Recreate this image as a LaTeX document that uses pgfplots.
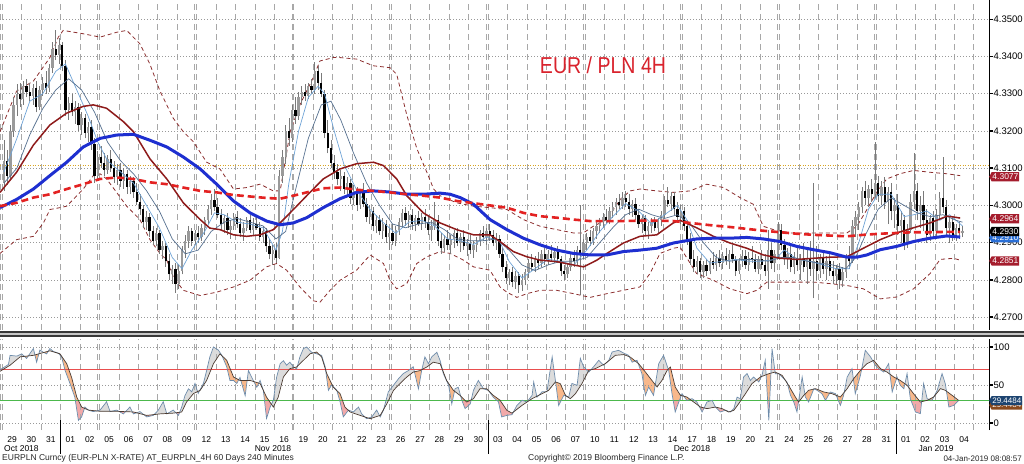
\documentclass[border=0pt]{standalone}
\usepackage{fontspec}
\setmainfont{Liberation Sans}
\usepackage{graphicx}
\usepackage{pgfplots}
\pgfplotsset{compat=1.18}
\usepackage{pgfplotstable}
\usetikzlibrary{shapes.symbols}
\pgfplotsset{/pgf/number format/assume math mode=true}

\definecolor{gridgray}{HTML}{A8A8A8}
\definecolor{titlered}{HTML}{D9232D}
\definecolor{maroonl}{HTML}{8E1B1B}
\definecolor{bbblue}{HTML}{1E2FD0}
\definecolor{bbred}{HTML}{E32222}
\definecolor{bbband}{HTML}{8B2D2D}
\definecolor{fastblue}{HTML}{6FA3D6}
\definecolor{slate}{HTML}{56708F}
\definecolor{labelred}{HTML}{A51D2D}
\definecolor{tagblue}{HTML}{2A6FD6}
\definecolor{stochK}{HTML}{6D8BAA}
\definecolor{stochD}{HTML}{4A3A30}
\definecolor{fillup}{HTML}{DCDCDC}
\definecolor{filldn}{HTML}{F8B88B}
\definecolor{fillpink}{HTML}{F2A9A9}
\definecolor{goldl}{HTML}{D9A521}
\definecolor{lowblue}{HTML}{1D4470}
\definecolor{lowbrown}{HTML}{8A4A1E}
\definecolor{wickgray}{HTML}{7A7A7A}
\definecolor{upgray}{HTML}{9A9A9A}

\pgfplotstableread{
i o h l c
0 4.3060 4.3175 4.3040 4.3120
1 4.3120 4.3150 4.3055 4.3080
2 4.3080 4.3215 4.3070 4.3200
3 4.3200 4.3290 4.3185 4.3270
4 4.3270 4.3325 4.3240 4.3300
5 4.3300 4.3330 4.3265 4.3285
6 4.3285 4.3335 4.3270 4.3320
7 4.3320 4.3340 4.3290 4.3305
8 4.3305 4.3330 4.3280 4.3295
9 4.3295 4.3325 4.3270 4.3315
10 4.3315 4.3335 4.3250 4.3265
11 4.3265 4.3320 4.3255 4.3310
12 4.3310 4.3345 4.3295 4.3330
13 4.3330 4.3360 4.3300 4.3315
14 4.3315 4.3380 4.3305 4.3370
15 4.3370 4.3440 4.3355 4.3420
16 4.3420 4.3470 4.3390 4.3405
17 4.3405 4.3450 4.3380 4.3430
18 4.3430 4.3440 4.3360 4.3375
19 4.3375 4.3390 4.3240 4.3255
20 4.3255 4.3290 4.3230 4.3275
21 4.3275 4.3300 4.3240 4.3250
22 4.3250 4.3280 4.3220 4.3265
23 4.3265 4.3275 4.3200 4.3215
24 4.3215 4.3250 4.3190 4.3235
25 4.3235 4.3245 4.3180 4.3195
26 4.3195 4.3225 4.3170 4.3210
27 4.3210 4.3230 4.3150 4.3165
28 4.3165 4.3180 4.3060 4.3080
29 4.3080 4.3145 4.3070 4.3130
30 4.3130 4.3160 4.3100 4.3115
31 4.3115 4.3140 4.3080 4.3095
32 4.3095 4.3135 4.3085 4.3125
33 4.3125 4.3150 4.3090 4.3100
34 4.3100 4.3120 4.3060 4.3075
35 4.3075 4.3110 4.3055 4.3095
36 4.3095 4.3115 4.3050 4.3065
37 4.3065 4.3100 4.3045 4.3085
38 4.3085 4.3095 4.3030 4.3050
39 4.3050 4.3080 4.3030 4.3065
40 4.3065 4.3075 4.3020 4.3035
41 4.3035 4.3060 4.3000 4.3010
42 4.3010 4.3030 4.2975 4.2990
43 4.2990 4.3000 4.2940 4.2955
44 4.2955 4.2985 4.2935 4.2970
45 4.2970 4.2980 4.2915 4.2930
46 4.2930 4.2945 4.2895 4.2905
47 4.2905 4.2940 4.2890 4.2925
48 4.2925 4.2935 4.2870 4.2880
49 4.2880 4.2905 4.2855 4.2890
50 4.2890 4.2900 4.2835 4.2850
51 4.2850 4.2870 4.2800 4.2815
52 4.2815 4.2840 4.2790 4.2830
53 4.2830 4.2845 4.2765 4.2790
54 4.2790 4.2840 4.2775 4.2825
55 4.2825 4.2890 4.2815 4.2880
56 4.2880 4.2920 4.2860 4.2905
57 4.2905 4.2945 4.2885 4.2930
58 4.2930 4.2940 4.2890 4.2905
59 4.2905 4.2935 4.2895 4.2925
60 4.2925 4.2945 4.2900 4.2915
61 4.2915 4.2950 4.2905 4.2940
62 4.2940 4.2970 4.2920 4.2960
63 4.2960 4.3000 4.2950 4.2990
64 4.2990 4.3030 4.2975 4.3015
65 4.3015 4.3045 4.2985 4.2995
66 4.2995 4.3020 4.2965 4.2975
67 4.2975 4.2990 4.2935 4.2950
68 4.2950 4.2975 4.2925 4.2965
69 4.2965 4.2980 4.2920 4.2935
70 4.2935 4.2960 4.2910 4.2945
71 4.2945 4.2980 4.2935 4.2970
72 4.2970 4.2985 4.2940 4.2950
73 4.2950 4.2965 4.2915 4.2925
74 4.2925 4.2955 4.2905 4.2940
75 4.2940 4.2970 4.2930 4.2960
76 4.2960 4.2975 4.2925 4.2935
77 4.2935 4.2965 4.2920 4.2950
78 4.2950 4.2975 4.2935 4.2940
79 4.2940 4.2955 4.2905 4.2915
80 4.2915 4.2945 4.2900 4.2930
81 4.2930 4.2940 4.2875 4.2890
82 4.2890 4.2910 4.2855 4.2870
83 4.2870 4.2895 4.2840 4.2880
84 4.2880 4.2900 4.2845 4.2860
85 4.2860 4.3095 4.2855 4.3080
86 4.3080 4.3150 4.3060 4.3130
87 4.3130 4.3215 4.3110 4.3200
88 4.3200 4.3235 4.3160 4.3180
89 4.3180 4.3270 4.3170 4.3255
90 4.3255 4.3290 4.3220 4.3240
91 4.3240 4.3305 4.3230 4.3290
92 4.3290 4.3320 4.3270 4.3305
93 4.3305 4.3325 4.3280 4.3295
94 4.3295 4.3330 4.3285 4.3320
95 4.3320 4.3340 4.3300 4.3310
96 4.3310 4.3385 4.3300 4.3360
97 4.3360 4.3375 4.3310 4.3330
98 4.3330 4.3355 4.3290 4.3300
99 4.3300 4.3310 4.3180 4.3195
100 4.3195 4.3230 4.3140 4.3155
101 4.3155 4.3175 4.3100 4.3115
102 4.3115 4.3135 4.3070 4.3090
103 4.3090 4.3110 4.3055 4.3070
104 4.3070 4.3095 4.3040 4.3080
105 4.3080 4.3090 4.3030 4.3045
106 4.3045 4.3075 4.3025 4.3060
107 4.3060 4.3070 4.3005 4.3020
108 4.3020 4.3055 4.3000 4.3040
109 4.3040 4.3050 4.2985 4.3000
110 4.3000 4.3045 4.2990 4.3035
111 4.3035 4.3060 4.2995 4.3005
112 4.3005 4.3020 4.2955 4.2970
113 4.2970 4.3000 4.2950 4.2985
114 4.2985 4.2995 4.2930 4.2945
115 4.2945 4.2975 4.2925 4.2960
116 4.2960 4.2975 4.2920 4.2930
117 4.2930 4.2965 4.2910 4.2950
118 4.2950 4.2960 4.2900 4.2915
119 4.2915 4.2940 4.2880 4.2925
120 4.2925 4.2950 4.2895 4.2905
121 4.2905 4.2945 4.2890 4.2935
122 4.2935 4.2965 4.2920 4.2955
123 4.2955 4.2990 4.2940 4.2980
124 4.2980 4.2995 4.2945 4.2960
125 4.2960 4.2985 4.2940 4.2975
126 4.2975 4.2990 4.2935 4.2950
127 4.2950 4.2975 4.2930 4.2965
128 4.2965 4.2985 4.2945 4.2950
129 4.2950 4.2980 4.2935 4.2970
130 4.2970 4.2990 4.2940 4.2955
131 4.2955 4.2975 4.2920 4.2935
132 4.2935 4.2960 4.2905 4.2945
133 4.2945 4.3010 4.2935 4.2960
134 4.2960 4.2975 4.2890 4.2905
135 4.2905 4.2925 4.2870 4.2885
136 4.2885 4.2920 4.2875 4.2910
137 4.2910 4.2935 4.2880 4.2895
138 4.2895 4.2920 4.2870 4.2910
139 4.2910 4.2935 4.2885 4.2925
140 4.2925 4.2940 4.2890 4.2900
141 4.2900 4.2925 4.2875 4.2915
142 4.2915 4.2935 4.2880 4.2890
143 4.2890 4.2910 4.2865 4.2900
144 4.2900 4.2920 4.2870 4.2880
145 4.2880 4.2905 4.2860 4.2895
146 4.2895 4.2915 4.2875 4.2905
147 4.2905 4.2935 4.2890 4.2925
148 4.2925 4.2945 4.2905 4.2915
149 4.2915 4.2940 4.2895 4.2930
150 4.2930 4.2950 4.2905 4.2920
151 4.2920 4.2935 4.2890 4.2900
152 4.2900 4.2925 4.2880 4.2910
153 4.2910 4.2920 4.2860 4.2870
154 4.2870 4.2885 4.2820 4.2835
155 4.2835 4.2850 4.2790 4.2805
156 4.2805 4.2830 4.2785 4.2820
157 4.2820 4.2835 4.2780 4.2795
158 4.2795 4.2825 4.2775 4.2810
159 4.2810 4.2820 4.2765 4.2785
160 4.2785 4.2815 4.2770 4.2800
161 4.2800 4.2830 4.2785 4.2820
162 4.2820 4.2855 4.2805 4.2845
163 4.2845 4.2870 4.2825 4.2835
164 4.2835 4.2865 4.2820 4.2855
165 4.2855 4.2875 4.2830 4.2845
166 4.2845 4.2880 4.2835 4.2870
167 4.2870 4.2885 4.2840 4.2855
168 4.2855 4.2880 4.2840 4.2870
169 4.2870 4.2895 4.2850 4.2860
170 4.2860 4.2885 4.2845 4.2875
171 4.2875 4.2890 4.2845 4.2855
172 4.2855 4.2865 4.2810 4.2825
173 4.2825 4.2840 4.2800 4.2815
174 4.2815 4.2845 4.2805 4.2835
175 4.2835 4.2870 4.2825 4.2860
176 4.2860 4.2880 4.2835 4.2850
177 4.2850 4.2890 4.2840 4.2880
178 4.2880 4.3000 4.2760 4.2870
179 4.2870 4.2910 4.2855 4.2900
180 4.2900 4.2925 4.2880 4.2915
181 4.2915 4.2935 4.2890 4.2905
182 4.2905 4.2940 4.2895 4.2930
183 4.2930 4.2955 4.2910 4.2945
184 4.2945 4.2965 4.2925 4.2955
185 4.2955 4.2980 4.2940 4.2970
186 4.2970 4.2990 4.2950 4.2960
187 4.2960 4.2995 4.2950 4.2985
188 4.2985 4.3010 4.2965 4.2995
189 4.2995 4.3020 4.2975 4.3010
190 4.3010 4.3030 4.2990 4.3000
191 4.3000 4.3035 4.2990 4.3020
192 4.3020 4.3040 4.2995 4.3010
193 4.3010 4.3030 4.2975 4.2990
194 4.2990 4.3015 4.2970 4.3005
195 4.3005 4.3020 4.2960 4.2975
196 4.2975 4.2990 4.2940 4.2950
197 4.2950 4.2975 4.2925 4.2965
198 4.2965 4.2975 4.2920 4.2930
199 4.2930 4.2955 4.2910 4.2945
200 4.2945 4.2965 4.2925 4.2955
201 4.2955 4.2970 4.2930 4.2940
202 4.2940 4.2965 4.2925 4.2960
203 4.2960 4.2985 4.2945 4.2975
204 4.2975 4.3025 4.2965 4.3015
205 4.3015 4.3050 4.2995 4.3005
206 4.3005 4.3035 4.2985 4.3025
207 4.3025 4.3035 4.2975 4.2990
208 4.2990 4.3010 4.2955 4.2970
209 4.2970 4.3000 4.2950 4.2985
210 4.2985 4.2995 4.2930 4.2945
211 4.2945 4.2960 4.2895 4.2910
212 4.2910 4.2925 4.2840 4.2855
213 4.2855 4.2880 4.2820 4.2835
214 4.2835 4.2865 4.2815 4.2850
215 4.2850 4.2860 4.2805 4.2820
216 4.2820 4.2850 4.2805 4.2840
217 4.2840 4.2855 4.2810 4.2825
218 4.2825 4.2860 4.2815 4.2850
219 4.2850 4.2875 4.2830 4.2840
220 4.2840 4.2870 4.2825 4.2860
221 4.2860 4.2880 4.2835 4.2845
222 4.2845 4.2875 4.2830 4.2865
223 4.2865 4.2885 4.2840 4.2850
224 4.2850 4.2880 4.2830 4.2870
225 4.2870 4.2895 4.2845 4.2855
226 4.2855 4.2865 4.2810 4.2825
227 4.2825 4.2860 4.2815 4.2850
228 4.2850 4.2880 4.2835 4.2865
229 4.2865 4.2880 4.2830 4.2840
230 4.2840 4.2875 4.2825 4.2860
231 4.2860 4.2890 4.2845 4.2855
232 4.2855 4.2870 4.2820 4.2830
233 4.2830 4.2865 4.2815 4.2855
234 4.2855 4.2880 4.2830 4.2840
235 4.2840 4.2870 4.2810 4.2825
236 4.2825 4.2935 4.2775 4.2880
237 4.2880 4.2900 4.2830 4.2845
238 4.2845 4.2880 4.2820 4.2870
239 4.2870 4.2955 4.2860 4.2935
240 4.2935 4.2950 4.2880 4.2895
241 4.2895 4.2910 4.2840 4.2855
242 4.2855 4.2885 4.2830 4.2870
243 4.2870 4.2890 4.2820 4.2835
244 4.2835 4.2875 4.2815 4.2860
245 4.2860 4.2885 4.2825 4.2840
246 4.2840 4.2870 4.2800 4.2855
247 4.2855 4.2900 4.2820 4.2835
248 4.2835 4.2880 4.2790 4.2860
249 4.2860 4.2905 4.2810 4.2830
250 4.2830 4.3060 4.2750 4.2850
251 4.2850 4.2890 4.2800 4.2825
252 4.2825 4.2870 4.2805 4.2860
253 4.2860 4.2880 4.2815 4.2830
254 4.2830 4.2865 4.2800 4.2850
255 4.2850 4.2875 4.2810 4.2825
256 4.2825 4.2850 4.2790 4.2810
257 4.2810 4.2840 4.2790 4.2830
258 4.2830 4.2845 4.2775 4.2800
259 4.2800 4.2835 4.2780 4.2820
260 4.2820 4.2870 4.2805 4.2860
261 4.2860 4.2890 4.2830 4.2850
262 4.2850 4.2960 4.2845 4.2945
263 4.2945 4.2985 4.2915 4.2970
264 4.2970 4.3010 4.2935 4.2995
265 4.2995 4.3050 4.2980 4.3040
266 4.3040 4.3065 4.3000 4.3020
267 4.3020 4.3055 4.2995 4.3045
268 4.3045 4.3070 4.3010 4.3030
269 4.3030 4.3170 4.3020 4.3060
270 4.3060 4.3080 4.3010 4.3025
271 4.3025 4.3065 4.3000 4.3050
272 4.3050 4.3075 4.2990 4.3010
273 4.3010 4.3050 4.2950 4.3035
274 4.3035 4.3060 4.2960 4.2985
275 4.2985 4.3020 4.2940 4.3000
276 4.3000 4.3030 4.2920 4.2945
277 4.2945 4.2985 4.2900 4.2960
278 4.2960 4.2975 4.2880 4.2900
279 4.2900 4.2950 4.2885 4.2935
280 4.2935 4.3030 4.2925 4.3010
281 4.3010 4.3140 4.2990 4.3040
282 4.3040 4.3060 4.2960 4.2985
283 4.2985 4.3025 4.2940 4.3000
284 4.3000 4.3040 4.2930 4.2960
285 4.2960 4.2990 4.2900 4.2920
286 4.2920 4.2975 4.2905 4.2965
287 4.2965 4.2985 4.2910 4.2930
288 4.2930 4.2990 4.2915 4.2975
289 4.2975 4.3035 4.2960 4.3020
290 4.3020 4.3130 4.2980 4.2995
291 4.2995 4.3015 4.2920 4.2940
292 4.2940 4.2970 4.2900 4.2955
293 4.2955 4.2965 4.2905 4.2920
294 4.2920 4.2950 4.2905 4.2940
295 4.2940 4.2955 4.2910 4.2925
296 4.2925 4.2945 4.2915 4.2930
}\candles

\pgfplotstableread[row sep=\\]{
x y\\
-1.2 70\\ 1.4 77\\ 1.9 89\\ 4.0 88\\ 5.5 91\\ 7.0 85\\ 9.1 98\\ 10.1 80\\ 11.1 96\\ 12.2 93\\ 13.2 91\\ 14.2 98\\ 15.3 94\\ 16.8 92\\ 17.8 87\\ 18.9 69\\ 20.4 52\\ 21.9 34\\ 23.0 3.5\\ 24.0 8\\ 25.0 21\\ 26.1 17\\ 27.6 15\\ 29.7 17\\ 31.7 28\\ 32.8 15\\ 34.8 17\\ 36.9 12\\ 38.9 21\\ 40.0 12\\ 42.0 15\\ 44.1 8\\ 46.1 10\\ 47.7 17\\ 49.2 28\\ 50.3 12\\ 52.3 17\\ 53.9 10\\ 54.9 21\\ 55.9 36\\ 57.0 45\\ 58.0 41\\ 59.0 52\\ 60.0 39\\ 61.6 52\\ 62.6 69\\ 63.6 87\\ 64.7 100\\ 66.2 96\\ 67.3 89\\ 68.8 74\\ 69.8 56\\ 70.9 56\\ 71.9 52\\ 72.9 60\\ 74.5 36\\ 75.5 69\\ 77.0 56\\ 78.1 47\\ 79.1 56\\ 80.1 43\\ 81.1 6\\ 82.2 21\\ 83.2 30\\ 84.2 60\\ 85.3 78\\ 86.3 82\\ 87.3 76\\ 88.3 80\\ 89.4 74\\ 90.4 71\\ 91.4 87\\ 92.5 98\\ 93.5 100\\ 95.0 93\\ 96.6 91\\ 98.1 89\\ 99.2 74\\ 100.2 43\\ 101.2 50\\ 102.8 43\\ 103.8 28\\ 104.8 8\\ 106.4 17\\ 107.9 14.5\\ 109.5 21\\ 110.5 12\\ 112.0 5.7\\ 113.6 8\\ 115.1 17\\ 116.2 8\\ 117.2 17\\ 118.7 41\\ 120.3 49.6\\ 121.8 58\\ 123.3 65\\ 124.9 69\\ 126.4 74\\ 128.0 45\\ 129.0 69\\ 130.0 87\\ 131.1 78\\ 132.1 87\\ 133.7 93\\ 134.7 82\\ 135.7 65\\ 137.3 50\\ 138.3 25\\ 139.3 45\\ 140.3 47\\ 141.4 30\\ 142.4 19\\ 144.0 25\\ 145.0 43\\ 146.5 56\\ 148.1 45\\ 149.6 43\\ 151.1 34\\ 152.7 28\\ 153.7 8\\ 155.3 10\\ 156.9 11\\ 158.4 23\\ 160.0 30\\ 161.5 27.6\\ 163.1 36.4\\ 163.6 54\\ 164.6 34\\ 166.2 41\\ 167.7 41\\ 168.2 56\\ 169.3 87\\ 170.3 56\\ 171.3 23\\ 172.9 36.4\\ 174.4 34\\ 175.4 52\\ 177.0 49.6\\ 178.0 85\\ 179.0 74\\ 180.6 67\\ 182.1 74\\ 183.7 82.5\\ 185.2 76\\ 186.8 82.5\\ 187.8 93.4\\ 189.8 95.6\\ 191.4 92\\ 192.9 89\\ 194.0 80\\ 195.5 82.5\\ 197.0 65\\ 198.1 36.4\\ 199.1 47.4\\ 200.6 36.4\\ 202.2 78\\ 203.7 89\\ 205.3 69\\ 206.3 38.6\\ 207.3 14.5\\ 208.4 27.6\\ 209.4 38.6\\ 210.9 29.8\\ 212.5 32\\ 214.0 27.6\\ 215.6 14.5\\ 217.1 27.6\\ 218.7 29.8\\ 219.7 21\\ 221.2 14.5\\ 222.8 16.7\\ 224.3 14.5\\ 225.4 18.9\\ 226.4 34\\ 227.4 32\\ 228.4 60.5\\ 229.5 65\\ 230.5 56\\ 231.5 60.5\\ 233.1 54\\ 234.1 62.7\\ 235.1 82.5\\ 236.2 3.5\\ 237.2 97.8\\ 238.2 64.9\\ 239.3 64.9\\ 240.3 60.5\\ 241.8 54\\ 242.9 36.4\\ 243.9 27.6\\ 244.9 14.5\\ 246.5 60.5\\ 247.5 34\\ 248.5 27.6\\ 250.1 45\\ 251.1 43\\ 252.6 38.6\\ 253.7 29.8\\ 255.2 40.8\\ 256.8 38.6\\ 258.3 23.2\\ 259.3 36.4\\ 260.4 60.5\\ 261.9 71.5\\ 262.9 38.6\\ 264.5 62.7\\ 266.0 95.6\\ 267.6 87\\ 269.1 76\\ 270.1 71.5\\ 271.7 67\\ 273.2 78\\ 274.3 41\\ 275.8 60.5\\ 276.8 49.6\\ 277.9 45\\ 278.9 65\\ 279.9 32\\ 281.5 14.5\\ 283.0 12.3\\ 284.0 51.8\\ 285.1 32\\ 286.6 29.8\\ 288.2 43\\ 289.7 65\\ 290.7 51.8\\ 291.8 21\\ 293.3 23.2\\ 294.8 29.4\\
}\Kdata

\pgfplotstableread[row sep=\\]{
x y\\
-1.2 68\\ 1.9 76\\ 5.0 87\\ 9.1 89\\ 14.2 95\\ 17.3 91\\ 19.4 78\\ 20.9 60\\ 22.5 34\\ 24.0 21\\ 26.1 17\\ 29.7 15.4\\ 34.8 15.4\\ 40.0 14.5\\ 44.1 10\\ 48.2 12\\ 52.3 13\\ 54.9 14.5\\ 56.4 27.6\\ 58.5 38.6\\ 60.6 43\\ 62.6 56\\ 64.7 78\\ 66.7 91\\ 68.8 82.5\\ 70.9 60.5\\ 72.9 56\\ 76.0 56\\ 79.1 52\\ 81.1 34\\ 83.2 21\\ 84.7 34\\ 86.3 60.5\\ 88.3 71.5\\ 90.4 73.7\\ 92.5 82.5\\ 94.5 91\\ 96.6 93.4\\ 98.1 87\\ 99.7 65\\ 101.7 47\\ 103.8 38.6\\ 105.3 21\\ 106.9 14.5\\ 110.0 10\\ 113.1 5.7\\ 116.2 10\\ 118.2 25\\ 120.3 43\\ 122.3 51.8\\ 124.4 60.5\\ 126.4 67\\ 128.5 69\\ 130.6 73.7\\ 132.6 80\\ 134.7 78\\ 136.7 56\\ 138.8 43\\ 140.8 36.4\\ 142.9 27.6\\ 145.0 32\\ 147.0 45\\ 149.1 45\\ 151.1 36.4\\ 153.2 30\\ 155.3 16.7\\ 156.9 13\\ 160.0 23.2\\ 163.1 32\\ 166.2 38.6\\ 168.2 43\\ 170.3 54\\ 171.8 51.8\\ 173.4 36.4\\ 174.9 32\\ 176.5 38.6\\ 178.5 51.8\\ 180.6 69.3\\ 182.6 71.5\\ 185.7 78\\ 188.8 89\\ 191.4 90\\ 193.4 86.8\\ 196.0 78\\ 198.1 67\\ 200.1 56\\ 201.7 47.4\\ 203.2 56\\ 204.8 69.3\\ 205.8 73.7\\ 207.3 47.4\\ 208.9 36.4\\ 210.9 34.2\\ 213.0 27.6\\ 215.1 21\\ 217.1 18.9\\ 219.7 21\\ 221.8 18.9\\ 223.8 14.5\\ 225.4 16.7\\ 226.9 25.4\\ 229.0 38.6\\ 231.0 51.8\\ 233.6 60.5\\ 236.2 64.9\\ 238.2 67\\ 240.3 62.7\\ 242.3 49.6\\ 244.4 34.2\\ 245.4 27.6\\ 247.0 36.4\\ 248.5 43\\ 250.6 45.2\\ 253.2 40.8\\ 255.7 38.6\\ 258.3 34.2\\ 260.4 45.2\\ 262.4 58.3\\ 264.5 69.3\\ 266.5 78\\ 268.6 82.5\\ 270.7 71.5\\ 272.7 67\\ 274.8 60.5\\ 276.8 56\\ 278.9 49.6\\ 280.9 38.6\\ 283.0 27.6\\ 285.1 29.8\\ 287.1 34.2\\ 289.2 45.2\\ 290.7 43\\ 292.8 36.4\\ 294.8 29.8\\
}\Ddata

% even-odd mask: panel rectangle + area under K + area under D
\pgfplotstableread[row sep=\\]{x y\\ -1.21 -9.2\\ 304.2 -9.2\\ 304.2 110.5\\ -1.21 110.5\\ nan nan\\}\Wdata
\pgfplotstableread[row sep=\\]{x y\\ 294.8 0\\ -1.2 0\\ nan nan\\}\Wclose
\pgfplotstablevertcat{\Wdata}{\Kdata}
\pgfplotstablevertcat{\Wdata}{\Wclose}
\pgfplotstablevertcat{\Wdata}{\Ddata}
\pgfplotstablevertcat{\Wdata}{\Wclose}

\pgfplotsset{
  bbgrid/.style={
    xtick={-0.5,5.5,...,299.5},
    minor xtick={-1.1,28.9,58.9,88.9,118.9,148.9,178.9,208.9,238.9,268.9},
    xtick style={draw=none},
    xmajorgrids, xminorgrids, ymajorgrids,
    major x grid style={gridgray, dash pattern=on 6pt off 4pt, line width=0.6pt},
    minor x grid style={gridgray, dash pattern=on 6pt off 4pt, line width=0.6pt},
    major y grid style={gray!80, dash pattern=on 1pt off 2pt, line width=0.6pt},
    axis x line*=bottom, axis y line*=right,
    x axis line style={draw=none},
    y axis line style={-, black, line width=0.9pt},
    ytick pos=right, yticklabel pos=right,
    ytick style={black, line width=1.4pt},
    major tick length=3.5pt, tick align=outside,
    tick label style={font=\fontsize{9.5}{10}\selectfont},
    yticklabel style={inner xsep=1pt},
    xmin=-1.21, xmax=304.2,
    scale only axis, width=989pt,
  },
  candle/.style={mark=none, mark size=0pt, draw=none, forget plot,
    error bars/y dir=plus, error bars/y explicit, error bars/error mark=none},
}
\tikzset{tag/.style={signal, signal to=west, signal pointer angle=125, text=white,
    font=\fontsize{8.5}{9}\selectfont, inner xsep=0.8pt, inner ysep=1.6pt, anchor=west}}

\begin{document}
\begin{tikzpicture}
\useasboundingbox (0pt,0pt) rectangle (1024pt,463pt);

% ---------------- main price panel ----------------
\begin{axis}[bbgrid,
  at={(0pt,133pt)}, anchor=south west, height=330pt,
  ymin=4.26654, ymax=4.35517,
  clip mode=individual,
  xticklabels={},
  ytick={4.27,4.28,4.29,4.30,4.31,4.32,4.33,4.34,4.35},
  yticklabel style={/pgf/number format/.cd, fixed, fixed zerofill, precision=4},
]
\addplot[goldl, line width=1pt, dash pattern=on 1pt off 1.5pt, forget plot] coordinates {(-1.21,4.3108) (304.2,4.3108)};

% Bollinger bands
\addplot[bbband, line width=0.8pt, dash pattern=on 4pt off 3pt] coordinates {
(-1.2,4.3198) (3.9,4.3307) (9.1,4.3334) (14.2,4.3397) (16.8,4.3452) (18.3,4.3470) (24.5,4.3461) (29.7,4.3452) (34.8,4.3465) (37.9,4.3470) (42.0,4.3434) (45.1,4.3379) (48.2,4.3307) (52.3,4.3234) (55.4,4.3198) (58.5,4.3171) (62.6,4.3116) (66.7,4.3098) (70.9,4.3044) (75.0,4.3048) (79.1,4.3057) (83.2,4.3039) (85.3,4.3039) (88.4,4.3198) (91.4,4.3270) (95.5,4.3343) (97.6,4.3388) (101.7,4.3397) (103.8,4.3397) (108.9,4.3393) (114.1,4.3375) (119.2,4.3370) (121.3,4.3352) (124.4,4.3243) (127.5,4.3153) (130.6,4.3089) (132.7,4.3044) (134.7,4.3026) (139.8,4.3007) (145.0,4.2998) (150.1,4.2994) (155.3,4.2989) (160.4,4.2962) (165.6,4.2944) (170.7,4.2935) (175.9,4.2926) (178.9,4.2926) (182.0,4.2944) (186.2,4.2962) (190.3,4.3016) (193.4,4.3039) (196.4,4.3044) (201.6,4.3039) (206.7,4.3035) (211.9,4.3039) (217.0,4.3057) (222.2,4.3048) (227.3,4.3021) (231.4,4.3003) (234.5,4.2944) (237.6,4.2935) (242.8,4.2926) (250.0,4.2926) (255.1,4.2926) (260.3,4.2926) (263.4,4.2944) (266.5,4.2989) (269.5,4.3035) (272.6,4.3071) (276.7,4.3085) (280.9,4.3094) (286.0,4.3089) (291.2,4.3085) (295.3,4.3080)};
\addplot[bbband, line width=0.8pt, dash pattern=on 4pt off 3pt] coordinates {
(-1.2,4.2871) (3.9,4.2908) (9.1,4.2917) (12.2,4.2953) (14.2,4.2989) (17.3,4.2994) (19.4,4.2998) (24.5,4.3044) (27.6,4.3080) (29.7,4.3085) (31.7,4.3071) (34.8,4.3035) (37.9,4.2998) (42.0,4.2962) (45.1,4.2908) (48.2,4.2871) (50.3,4.2853) (52.3,4.2808) (55.4,4.2772) (60.6,4.2758) (65.7,4.2767) (70.9,4.2781) (76.0,4.2799) (81.1,4.2835) (84.2,4.2844) (87.3,4.2826) (91.4,4.2781) (95.5,4.2744) (97.6,4.2740) (100.7,4.2772) (103.8,4.2799) (108.9,4.2826) (113.1,4.2867) (117.2,4.2844) (119.2,4.2799) (121.3,4.2776) (124.4,4.2790) (127.5,4.2844) (130.6,4.2862) (134.7,4.2876) (137.8,4.2871) (141.9,4.2853) (145.0,4.2835) (150.1,4.2826) (153.2,4.2781) (155.3,4.2767) (158.4,4.2753) (161.5,4.2763) (165.6,4.2772) (170.7,4.2772) (175.9,4.2763) (181.0,4.2753) (186.2,4.2763) (191.3,4.2772) (196.4,4.2781) (199.5,4.2817) (202.6,4.2871) (206.7,4.2885) (208.8,4.2888) (213.9,4.2817) (219.1,4.2799) (224.2,4.2776) (229.4,4.2763) (232.5,4.2772) (235.6,4.2794) (239.7,4.2794) (250.0,4.2794) (255.1,4.2790) (260.3,4.2785) (265.4,4.2776) (270.6,4.2749) (275.7,4.2754) (280.9,4.2776) (286.0,4.2817) (289.1,4.2855) (293.2,4.2858) (295.3,4.2853)};

% candles: wicks
\addplot[candle, error bars/error bar style={draw=wickgray, solid, line width=0.7pt}]
  table[x=i, y=l, y error plus expr={\thisrow{h}-\thisrow{l}}] {\candles};
% candles: up bodies
\addplot[candle, restrict expr to domain={\thisrow{c}-\thisrow{o}}{0:1},
  error bars/error bar style={draw=upgray, solid, line width=2.3pt}]
  table[x=i, y=o, y error plus expr={\thisrow{c}-\thisrow{o}}] {\candles};
% candles: down bodies
\addplot[candle, restrict expr to domain={\thisrow{o}-\thisrow{c}}{0.00001:1},
  error bars/error bar style={draw=black, solid, line width=2.3pt}]
  table[x=i, y=c, y error plus expr={\thisrow{o}-\thisrow{c}}] {\candles};

% fast MA
\addplot[fastblue, line width=0.7pt] coordinates {
(0,4.3090) (4,4.3180) (8,4.3280) (12,4.3300) (16,4.3360) (19,4.3380) (22,4.3320) (26,4.3240) (29,4.3170) (32,4.3120) (36,4.3090) (40,4.3060) (44,4.3000) (48,4.2940) (52,4.2860) (55,4.2830) (58,4.2880) (62,4.2930) (65,4.2980) (68,4.2975) (72,4.2955) (76,4.2950) (80,4.2940) (84,4.2880) (86,4.2930) (88,4.3060) (91,4.3200) (94,4.3290) (97,4.3320) (99,4.3300) (102,4.3200) (105,4.3110) (109,4.3040) (113,4.2990) (117,4.2955) (121,4.2925) (125,4.2955) (129,4.2960) (133,4.2945) (137,4.2910) (141,4.2905) (145,4.2895) (149,4.2915) (153,4.2905) (156,4.2850) (160,4.2805) (164,4.2830) (168,4.2855) (172,4.2850) (176,4.2840) (180,4.2880) (184,4.2930) (188,4.2970) (192,4.3005) (196,4.2985) (200,4.2950) (204,4.2975) (208,4.3000) (211,4.2960) (214,4.2885) (218,4.2845) (222,4.2850) (226,4.2855) (230,4.2850) (234,4.2850) (238,4.2855) (241,4.2880) (245,4.2855) (249,4.2850) (253,4.2840) (257,4.2830) (261,4.2830) (264,4.2900) (267,4.2990) (270,4.3030) (274,4.3030) (278,4.2970) (281,4.2975) (285,4.2985) (289,4.2960) (292,4.2975) (296,4.2945)};
% slower thin MA
\addplot[slate, line width=0.7pt] coordinates {
(0,4.3060) (4,4.3100) (8,4.3190) (12,4.3260) (16,4.3310) (20,4.3340) (24,4.3310) (28,4.3250) (32,4.3170) (36,4.3120) (40,4.3085) (44,4.3040) (48,4.2985) (52,4.2910) (56,4.2870) (60,4.2880) (64,4.2930) (68,4.2955) (72,4.2965) (76,4.2955) (80,4.2945) (84,4.2910) (87,4.2930) (90,4.3040) (94,4.3180) (98,4.3270) (101,4.3280) (104,4.3230) (108,4.3140) (112,4.3060) (116,4.3000) (120,4.2950) (124,4.2940) (128,4.2950) (132,4.2955) (136,4.2935) (140,4.2910) (144,4.2905) (148,4.2905) (152,4.2910) (156,4.2880) (160,4.2840) (164,4.2825) (168,4.2840) (172,4.2850) (176,4.2850) (180,4.2860) (184,4.2900) (188,4.2940) (192,4.2975) (196,4.2990) (200,4.2975) (204,4.2965) (208,4.2975) (212,4.2950) (216,4.2900) (220,4.2860) (224,4.2850) (228,4.2855) (232,4.2855) (236,4.2850) (240,4.2860) (244,4.2860) (248,4.2850) (252,4.2845) (256,4.2840) (260,4.2830) (263,4.2860) (266,4.2920) (270,4.2990) (274,4.3020) (278,4.3000) (282,4.2980) (286,4.2970) (290,4.2975) (294,4.2960) (296,4.2955)};
% 20 MA (maroon)
\addplot[maroonl, line width=1.5pt] coordinates {
(-1.2,4.3035) (3.9,4.3089) (9.1,4.3162) (14.2,4.3216) (19.4,4.3248) (24.5,4.3266) (27.6,4.3270) (31.7,4.3261) (36.9,4.3225) (40.0,4.3198) (45.1,4.3125) (50.3,4.3071) (55.4,4.3007) (60.6,4.2962) (63.6,4.2939) (66.7,4.2935) (70.9,4.2921) (75.0,4.2917) (79.1,4.2921) (83.2,4.2935) (86.3,4.2962) (89.4,4.2989) (93.5,4.3026) (98.6,4.3071) (103.8,4.3098) (108.9,4.3112) (114.1,4.3116) (117.2,4.3107) (121.3,4.3071) (124.4,4.3026) (129.5,4.2980) (134.7,4.2953) (139.8,4.2935) (145.0,4.2921) (150.1,4.2921) (153.2,4.2903) (157.3,4.2876) (161.5,4.2862) (165.6,4.2853) (170.7,4.2849) (175.9,4.2840) (179.0,4.2835) (183.1,4.2853) (186.2,4.2871) (191.3,4.2899) (196.4,4.2917) (201.6,4.2921) (206.7,4.2953) (208.8,4.2960) (213.9,4.2940) (219.1,4.2917) (224.2,4.2899) (229.4,4.2885) (234.5,4.2867) (239.7,4.2858) (244.8,4.2855) (250.0,4.2858) (255.1,4.2861) (260.3,4.2862) (265.4,4.2885) (270.6,4.2908) (275.7,4.2926) (280.9,4.2940) (286.0,4.2953) (291.2,4.2971) (293.2,4.2969) (295.3,4.2966)};
% 50 MA (thick blue)
\addplot[bbblue, line width=3pt] coordinates {
(-1.2,4.2994) (3.9,4.3016) (9.1,4.3044) (14.2,4.3080) (19.4,4.3116) (24.5,4.3157) (29.7,4.3180) (34.8,4.3189) (40.0,4.3191) (45.1,4.3175) (50.3,4.3157) (55.4,4.3130) (60.6,4.3098) (65.7,4.3057) (70.9,4.3012) (76.0,4.2980) (81.1,4.2958) (85.3,4.2948) (89.4,4.2953) (93.5,4.2967) (98.6,4.2994) (103.8,4.3018) (108.9,4.3035) (114.1,4.3039) (119.2,4.3036) (124.4,4.3030) (129.5,4.3030) (134.7,4.3033) (137.8,4.3030) (140.9,4.3021) (145.0,4.3003) (150.1,4.2962) (155.3,4.2935) (160.4,4.2912) (165.6,4.2894) (170.7,4.2880) (175.9,4.2871) (181.0,4.2867) (186.2,4.2867) (191.3,4.2876) (196.4,4.2880) (201.6,4.2885) (206.7,4.2899) (213.9,4.2910) (219.1,4.2912) (224.2,4.2912) (229.4,4.2914) (234.5,4.2910) (239.7,4.2903) (244.8,4.2890) (250.0,4.2881) (255.1,4.2873) (260.3,4.2861) (263.4,4.2861) (266.5,4.2867) (270.6,4.2881) (275.7,4.2890) (280.9,4.2903) (286.0,4.2912) (291.2,4.2918) (295.3,4.2915)};
% 100 MA (red dashed)
\addplot[bbred, line width=2.6pt, dash pattern=on 7pt off 4pt] coordinates {
(-1.2,4.2998) (3.9,4.3007) (9.1,4.3021) (14.2,4.3030) (19.4,4.3044) (24.5,4.3057) (29.7,4.3071) (34.8,4.3075) (40.0,4.3071) (45.1,4.3062) (50.3,4.3057) (55.4,4.3048) (60.6,4.3039) (65.7,4.3035) (70.9,4.3028) (76.0,4.3024) (81.1,4.3020) (85.3,4.3018) (89.4,4.3026) (93.5,4.3035) (98.6,4.3046) (103.8,4.3048) (108.9,4.3042) (114.1,4.3039) (119.2,4.3035) (124.4,4.3030) (129.5,4.3026) (134.7,4.3021) (139.8,4.3012) (145.0,4.3006) (150.1,4.3000) (155.3,4.2994) (160.4,4.2980) (165.6,4.2971) (170.7,4.2967) (175.9,4.2962) (181.0,4.2958) (186.2,4.2958) (191.3,4.2958) (196.4,4.2959) (201.6,4.2959) (206.7,4.2958) (213.9,4.2951) (219.1,4.2946) (224.2,4.2942) (229.4,4.2937) (234.5,4.2932) (239.7,4.2928) (244.8,4.2924) (250.0,4.2921) (255.1,4.2919) (260.3,4.2917) (265.4,4.2921) (270.6,4.2924) (275.7,4.2926) (280.9,4.2928) (286.0,4.2928) (291.2,4.2929) (295.3,4.2929)};

% title
\node[text=titlered, font=\fontsize{23}{23}\selectfont] at (axis cs:185,4.33776) {\scalebox{0.85}[1]{EUR / PLN 4H}};

% value tags
\node[tag, fill=labelred] at (axis cs:304.2,4.3077) {4.3077};
\node[tag, fill=labelred] at (axis cs:304.2,4.2964) {4.2964};
\node[tag, fill=tagblue] at (axis cs:304.2,4.2913) {4.2910};
\node[tag, fill=black] at (axis cs:304.2,4.2930) {4.2930};
\node[tag, fill=labelred] at (axis cs:304.2,4.2851) {4.2851};
\end{axis}

% separator
\fill[black!78] (0pt,125.7pt) rectangle (1024pt,132pt);
\draw[gray!45, line width=1.2pt] (0pt,129pt) -- (1024pt,129pt);

% ---------------- stochastic panel: fills between %K and %D ----------------
\begin{axis}[
  at={(0pt,33pt)}, anchor=south west, scale only axis, width=989pt, height=91pt,
  xmin=-1.21, xmax=304.2, ymin=-9.2, ymax=110.5, hide axis,
]
\addplot[draw=none, fill=filldn, forget plot] table[x=x, y=y] {\Ddata} \closedcycle;
\addplot[draw=none, fill=fillpink, forget plot] coordinates {(-1.21,-9.2) (304.2,-9.2) (304.2,30) (-1.21,30)};
\addplot[draw=none, fill=fillup, forget plot] table[x=x, y=y] {\Kdata} \closedcycle;
\addplot[draw=none, fill=white, even odd rule, unbounded coords=jump, forget plot] table[x=x, y=y] {\Wdata};
\end{axis}

% ---------------- stochastic panel: grid, lines, ticks ----------------
\begin{axis}[bbgrid,
  at={(0pt,33pt)}, anchor=south west, height=91pt,
  ymin=-9.2, ymax=110.5,
  clip=false,
  ytick={0,50,100},
  xticklabels={},
  extra x ticks={2.5,8.5,...,296.5},
  extra x tick labels={29,30,31,01,02,05,06,07,08,09,12,13,14,15,16,19,20,21,22,23,26,27,28,29,30,03,04,05,06,07,10,11,12,13,14,17,18,19,20,21,24,25,26,27,28,31,01,02,03,04},
  extra x tick style={grid=none, xticklabel style={font=\fontsize{8.5}{9}\selectfont, inner sep=1pt, yshift=-1.5pt}},
]
\addplot[bbred!80, line width=0.8pt, forget plot] coordinates {(-1.21,70) (304.2,70)};
\addplot[green!60!black!70, line width=0.8pt, forget plot] coordinates {(-1.21,30) (304.2,30)};
\addplot[stochK, line width=0.7pt] table[x=x, y=y] {\Kdata};
\addplot[stochD, line width=0.7pt] table[x=x, y=y] {\Ddata};

\node[tag, fill=lowbrown, font=\fontsize{8}{9}\selectfont] at (axis cs:304.2,23.5) {29.4484};
\node[tag, fill=lowblue, font=\fontsize{8}{9}\selectfont] at (axis cs:304.2,29.45) {29.4484};
\end{axis}

% month separators and labels
\draw[black, line width=0.8pt] (60.6pt,43pt) -- (60.6pt,9pt);
\draw[black, line width=0.8pt] (488pt,43pt) -- (488pt,9pt);
\draw[black, line width=0.8pt] (896pt,43pt) -- (896pt,9pt);
\begin{scope}[every node/.style={font=\fontsize{8.5}{9}\selectfont, inner sep=0pt}]
\node[anchor=west] at (4pt,14pt) {Oct 2018};
\node at (273pt,14pt) {Nov 2018};
\node at (692pt,14pt) {Dec 2018};
\node at (936pt,14pt) {Jan 2019};
\end{scope}
% footer
\begin{scope}[every node/.style={font=\fontsize{8.5}{8.5}\selectfont, inner sep=0pt, text=black!85}]
\node[anchor=west] at (2pt,4.5pt) {EURPLN Curncy (EUR-PLN X-RATE) AT\_EURPLN\_4H 60 Days 240 Minutes};
\node[anchor=west] at (528pt,4.5pt) {Copyright© 2019 Bloomberg Finance L.P.};
\node[anchor=east, font=\fontsize{8}{8}\selectfont] at (1022pt,4.5pt) {04-Jan-2019 08:08:57};
\end{scope}
\end{tikzpicture}
\end{document}
